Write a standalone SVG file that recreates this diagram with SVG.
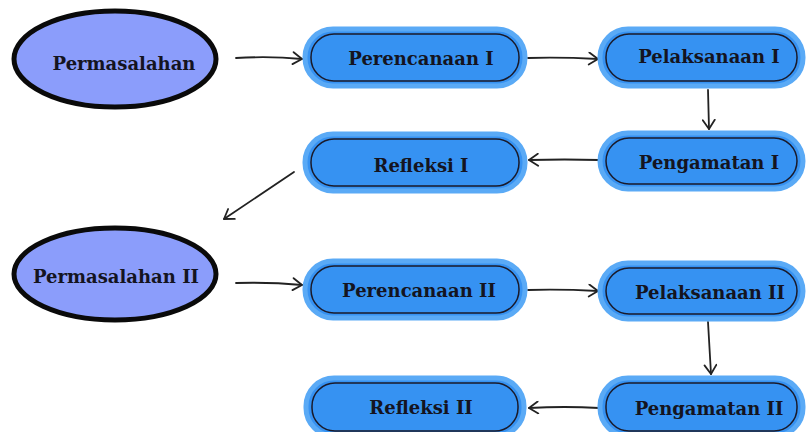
<svg xmlns="http://www.w3.org/2000/svg" width="807" height="432" viewBox="0 0 807 432">
<defs>
<style>
.ell{fill:#8b9dfb;stroke:#0a0a0a;stroke-width:5}
.outer{fill:#3692f2;stroke:#5aaaf6;stroke-width:5}
.inner{fill:none;stroke:#1a1a2a;stroke-width:1.5}
.t{font-family:"DejaVu Serif","Liberation Serif",serif;font-size:18px;fill:#141420;text-anchor:middle;dominant-baseline:central;font-weight:bold}
.c{fill:none;stroke:#222;stroke-width:1.8;stroke-linecap:round}
</style>
<marker id="ah" markerWidth="14" markerHeight="14" refX="11" refY="7" orient="auto" markerUnits="userSpaceOnUse">
<path d="M2,1 L11,7 L2,13" fill="none" stroke="#222" stroke-width="1.8" stroke-linecap="round" stroke-linejoin="round"/>
</marker>
</defs>
<rect width="807" height="432" fill="#ffffff"/>
<g id="connectors">
<path class="c" d="M236,58 Q270,56 302,59" marker-end="url(#ah)"/>
<path class="c" d="M528,58 Q560,57 598,59" marker-end="url(#ah)"/>
<path class="c" d="M708,90 L709,129" marker-end="url(#ah)"/>
<path class="c" d="M599,160 Q565,159 529,160" marker-end="url(#ah)"/>
<path class="c" d="M294,172 L224,219" marker-end="url(#ah)"/>
<path class="c" d="M236,283 Q270,282 302,285" marker-end="url(#ah)"/>
<path class="c" d="M528,290 Q560,289 598,291" marker-end="url(#ah)"/>
<path class="c" d="M708,322 L711,374" marker-end="url(#ah)"/>
<path class="c" d="M599,408 Q565,406 529,408" marker-end="url(#ah)"/>
</g>
<g id="permasalahan">
<ellipse class="ell" cx="115" cy="59" rx="101" ry="48"/>
<text class="t" x="124" y="63">Permasalahan</text>
</g>
<g id="perencanaan1">
<rect class="outer" x="305" y="29" width="220" height="57" rx="28"/>
<rect class="inner" x="311" y="34" width="208" height="47" rx="23"/>
<text class="t" x="421" y="58">Perencanaan I</text>
</g>
<g id="pelaksanaan1">
<rect class="outer" x="600" y="29" width="203" height="57" rx="28"/>
<rect class="inner" x="606" y="34" width="191" height="47" rx="23"/>
<text class="t" x="709" y="56">Pelaksanaan I</text>
</g>
<g id="pengamatan1">
<rect class="outer" x="600" y="133" width="203" height="56" rx="28"/>
<rect class="inner" x="606" y="138" width="191" height="46" rx="23"/>
<text class="t" x="709" y="162">Pengamatan I</text>
</g>
<g id="refleksi1">
<rect class="outer" x="305" y="134" width="220" height="57" rx="28"/>
<rect class="inner" x="311" y="139" width="208" height="47" rx="23"/>
<text class="t" x="421" y="165">Refleksi I</text>
</g>
<g id="permasalahan2">
<ellipse class="ell" cx="115" cy="274" rx="101" ry="46"/>
<text class="t" x="116" y="276">Permasalahan II</text>
</g>
<g id="perencanaan2">
<rect class="outer" x="305" y="261" width="220" height="57" rx="28"/>
<rect class="inner" x="311" y="266" width="208" height="47" rx="23"/>
<text class="t" x="419" y="290">Perencanaan II</text>
</g>
<g id="pelaksanaan2">
<rect class="outer" x="600" y="263" width="203" height="56" rx="28"/>
<rect class="inner" x="606" y="268" width="191" height="46" rx="23"/>
<text class="t" x="710" y="292">Pelaksanaan II</text>
</g>
<g id="pengamatan2">
<rect class="outer" x="600" y="378" width="203" height="58" rx="28"/>
<rect class="inner" x="606" y="383" width="191" height="48" rx="23"/>
<text class="t" x="709" y="408">Pengamatan II</text>
</g>
<g id="refleksi2">
<rect class="outer" x="306" y="378" width="218" height="58" rx="28"/>
<rect class="inner" x="312" y="383" width="206" height="48" rx="23"/>
<text class="t" x="421" y="407">Refleksi II</text>
</g>
</svg>
